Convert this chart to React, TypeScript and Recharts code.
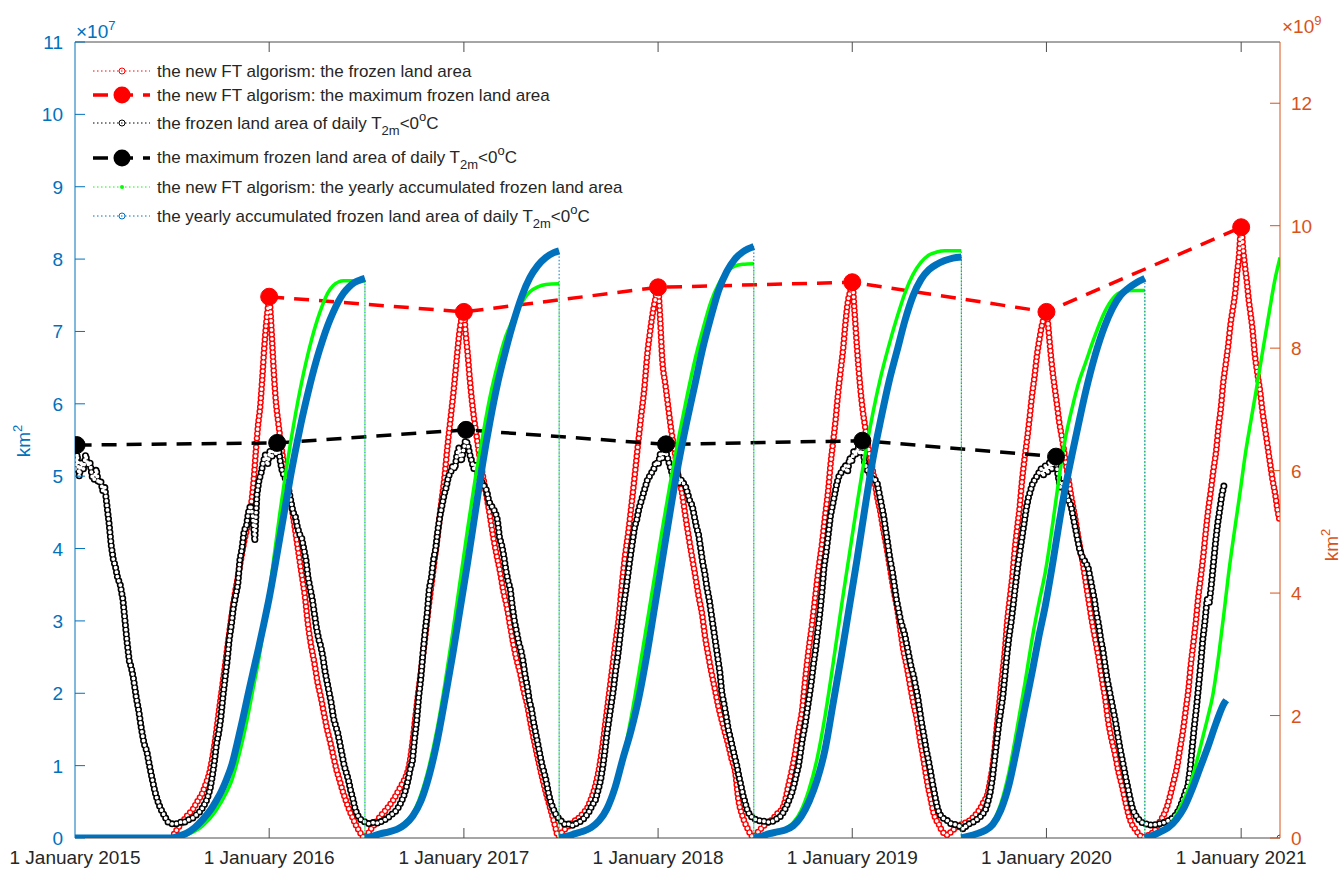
import React from "react";
import { ComposedChart, Line, XAxis, YAxis, ReferenceLine } from "recharts";

type Pt = [number, number];

// x is days since 1 January 2015
const dateTicks = [0, 365, 731, 1096, 1461, 1826, 2192];
const dateLabels = [
  "1 January 2015",
  "1 January 2016",
  "1 January 2017",
  "1 January 2018",
  "1 January 2019",
  "1 January 2020",
  "1 January 2021",
];
const areaTicks = [0, 1, 2, 3, 4, 5, 6, 7, 8, 9, 10, 11]; // x10^7 km2
const accTicks = [0, 2, 4, 6, 8, 10, 12]; // x10^9 km2

// yearly maxima (x10^7 km2)
const ftMaxDays = [365, 731, 1096, 1461, 1826, 2192];
const ftMaxArea = [7.48, 7.27, 7.61, 7.68, 7.27, 8.44];
const t2mMaxDays = [3, 380, 735, 1111, 1480, 1844];
const t2mMaxArea = [5.43, 5.46, 5.64, 5.44, 5.49, 5.27];
const ftLast: Pt = [2265, 0];

// new FT algorism, daily frozen land area (x10^7 km2)
const ftA: Pt[] = [[182,0],[186,0.05],[192,0.12],[198,0.18],[204,0.24],[210,0.3],[216,0.35],[222,0.4],[228,0.48],[234,0.55],[240,0.63],[246,0.75],[252,0.88],[258,1.1],[264,1.38],[270,1.72],[276,2.05],[282,2.38],[288,2.72],[294,3.05],[300,3.35],[306,3.6],[312,3.85],[318,4.1],[324,4.3],[330,4.55],[336,4.95],[340,5.35],[344,5.7],[348,5.95],[352,6.35],[356,6.8],[360,7.15],[363,7.35],[365,7.48],[368,7.2],[371,6.8],[374,6.4],[378,6.0],[382,5.75],[388,5.4],[395,5.06],[402,4.75],[408,4.53],[414,4.25],[420,3.95],[426,3.65],[432,3.35],[438,2.95],[444,2.65],[450,2.42],[456,2.15],[462,1.95],[468,1.72],[474,1.5],[480,1.32],[486,1.12],[492,0.93],[498,0.78],[504,0.63],[510,0.5],[516,0.38],[522,0.28],[528,0.18],[534,0.1],[540,0.03],[544,0]];
const ftB: Pt[] = [[550,0.05],[556,0.12],[562,0.18],[568,0.24],[574,0.3],[580,0.35],[586,0.4],[592,0.46],[598,0.52],[604,0.6],[610,0.68],[616,0.76],[622,0.85],[628,1.0],[634,1.3],[640,1.68],[646,2.05],[652,2.4],[658,2.76],[664,3.15],[670,3.5],[676,3.85],[682,4.2],[688,4.6],[694,4.95],[700,5.4],[706,5.8],[712,6.2],[718,6.66],[722,6.95],[726,7.15],[731,7.27],[734,7.0],[738,6.7],[742,6.35],[746,6.05],[750,5.8],[756,5.5],[762,5.2],[768,4.95],[774,4.71],[780,4.45],[786,4.17],[792,3.93],[799,3.68],[805,3.42],[812,3.19],[818,2.93],[824,2.68],[830,2.47],[837,2.27],[843,2.05],[850,1.84],[856,1.6],[862,1.38],[868,1.17],[874,0.97],[880,0.78],[887,0.58],[893,0.42],[899,0.26],[904,0.12],[908,0.02]];
const ftC: Pt[] = [[912,0.05],[918,0.1],[925,0.15],[932,0.19],[938,0.23],[944,0.26],[950,0.3],[956,0.35],[962,0.4],[968,0.5],[974,0.62],[980,0.78],[986,1.0],[992,1.3],[998,1.65],[1004,2.0],[1010,2.35],[1016,2.7],[1022,3.03],[1028,3.5],[1034,3.9],[1040,4.22],[1046,4.6],[1052,5.0],[1058,5.42],[1064,5.82],[1070,6.2],[1076,6.7],[1082,7.05],[1087,7.3],[1091,7.45],[1096,7.61],[1099,7.3],[1104,6.6],[1110,6.25],[1115,5.96],[1121,5.62],[1128,5.31],[1134,5.02],[1141,4.77],[1146,4.52],[1152,4.23],[1159,3.92],[1166,3.62],[1172,3.35],[1179,3.08],[1184,2.8],[1190,2.54],[1196,2.3],[1203,2.05],[1209,1.83],[1216,1.62],[1222,1.45],[1228,1.29],[1234,1.1],[1241,0.91],[1247,0.53],[1254,0.32],[1260,0.2],[1265,0.12],[1270,0.05],[1275,0.01]];
const ftD: Pt[] = [[1280,0.05],[1286,0.1],[1292,0.15],[1298,0.19],[1304,0.22],[1310,0.25],[1316,0.3],[1322,0.35],[1329,0.4],[1335,0.52],[1340,0.69],[1347,0.92],[1354,1.19],[1360,1.48],[1367,1.78],[1372,2.15],[1378,2.54],[1385,2.93],[1391,3.3],[1397,3.68],[1404,4.06],[1410,4.45],[1416,4.82],[1420,5.15],[1425,5.47],[1430,5.8],[1434,6.12],[1439,6.45],[1444,6.77],[1448,7.1],[1453,7.42],[1457,7.55],[1461,7.68],[1465,7.3],[1470,6.77],[1476,6.23],[1480,5.95],[1485,5.69],[1490,5.45],[1495,5.25],[1502,4.98],[1508,4.71],[1514,4.5],[1519,4.28],[1526,4.0],[1532,3.73],[1538,3.46],[1545,3.19],[1551,2.9],[1557,2.6],[1564,2.35],[1570,2.1],[1576,1.86],[1583,1.62],[1588,1.38],[1594,1.13],[1599,0.9],[1604,0.69],[1609,0.52],[1613,0.37],[1618,0.26],[1623,0.2],[1628,0.12],[1634,0.06],[1640,0.04]];
const ftE: Pt[] = [[1646,0.08],[1652,0.12],[1658,0.15],[1664,0.18],[1670,0.2],[1676,0.22],[1683,0.25],[1690,0.3],[1696,0.35],[1701,0.4],[1708,0.5],[1715,0.6],[1720,0.78],[1724,0.95],[1729,1.25],[1733,1.55],[1738,1.9],[1743,2.25],[1748,2.6],[1752,2.97],[1757,3.3],[1762,3.62],[1766,3.95],[1771,4.28],[1776,4.6],[1780,4.93],[1785,5.25],[1790,5.53],[1795,5.85],[1799,6.12],[1804,6.4],[1808,6.66],[1813,6.9],[1818,7.1],[1822,7.2],[1826,7.27],[1829,7.1],[1832,6.85],[1836,6.55],[1841,6.25],[1846,5.98],[1850,5.75],[1855,5.54],[1861,5.25],[1867,4.98],[1873,4.7],[1880,4.42],[1886,4.15],[1893,3.86],[1899,3.58],[1905,3.3],[1911,3.02],[1918,2.74],[1925,2.45],[1931,2.17],[1937,1.9],[1942,1.62],[1948,1.38],[1955,1.16],[1961,0.93],[1968,0.72],[1974,0.52],[1980,0.33],[1986,0.2],[1993,0.12],[2000,0.05],[2006,0.01]];
const ftF: Pt[] = [[2012,0.02],[2018,0.04],[2025,0.07],[2031,0.12],[2037,0.2],[2043,0.27],[2049,0.36],[2054,0.46],[2059,0.6],[2065,0.78],[2072,1.0],[2077,1.23],[2083,1.5],[2088,1.78],[2093,2.06],[2097,2.37],[2102,2.68],[2107,3.0],[2111,3.3],[2116,3.6],[2121,3.91],[2125,4.2],[2130,4.53],[2135,4.8],[2140,5.09],[2145,5.35],[2149,5.65],[2154,5.95],[2158,6.27],[2163,6.55],[2168,6.83],[2172,7.1],[2177,7.34],[2181,7.55],[2184,7.78],[2188,8.05],[2192,8.44],[2196,8.11],[2200,7.85],[2203,7.67],[2206,7.45],[2209,7.28],[2213,7.05],[2218,6.66],[2223,6.4],[2228,6.15],[2232,5.9],[2237,5.65],[2242,5.4],[2246,5.2],[2251,4.95],[2256,4.75],[2260,4.55],[2264,4.4]];

// daily T2m<0 frozen land area (x10^7 km2)
const t2mA: Pt[] = [[0,5.1],[4,5.3],[8,5.0],[12,5.2],[16,5.1],[20,5.3],[24,5.15],[28,5.2],[32,5.0],[36,4.95],[40,5.1],[44,4.9],[48,4.95],[52,4.8],[56,4.85],[60,4.6],[64,4.35],[68,4.05],[72,3.85],[76,3.75],[80,3.6],[85,3.5],[90,3.3],[94,3.0],[98,2.7],[102,2.45],[106,2.35],[110,2.2],[115,1.95],[120,1.75],[125,1.5],[130,1.3],[135,1.2],[140,1.0],[145,0.82],[150,0.65],[155,0.52],[160,0.42],[165,0.35],[170,0.28],[175,0.22],[180,0.2],[186,0.19],[192,0.2],[198,0.22],[204,0.21],[210,0.24],[216,0.26],[222,0.28],[228,0.32],[234,0.36],[240,0.42],[246,0.5],[250,0.58],[254,0.68],[258,0.85],[262,1.05],[266,1.3],[270,1.45],[274,1.65],[278,1.95],[282,2.2],[286,2.45],[290,2.75],[294,2.95],[298,3.2],[302,3.35],[306,3.5],[310,3.85],[314,4.0],[318,4.25],[322,4.3],[326,4.5],[330,4.6],[334,4.45],[338,4.1],[342,4.75],[346,4.95],[350,5.05],[354,5.2],[358,5.3],[362,5.15],[366,5.35],[370,5.25],[374,5.45],[378,5.3],[382,5.4],[386,5.2],[390,5.05],[394,5.0],[398,4.9],[402,4.8],[406,4.65],[410,4.5],[414,4.45],[418,4.3],[422,4.2],[426,4.15],[430,4.0],[434,3.85],[438,3.6],[442,3.45],[446,3.3],[450,3.1],[454,2.9],[458,2.75],[462,2.65],[466,2.5],[470,2.3],[474,2.15],[478,2.0],[482,1.85],[486,1.65],[490,1.55],[494,1.45],[498,1.3],[502,1.15],[506,1.0],[510,0.9],[514,0.8],[518,0.66],[522,0.55],[526,0.42],[530,0.33],[535,0.27],[540,0.24],[546,0.22]];
const t2mB: Pt[] = [[552,0.2],[558,0.21],[564,0.22],[570,0.2],[576,0.23],[582,0.25],[588,0.28],[594,0.32],[600,0.35],[606,0.4],[612,0.48],[618,0.58],[622,0.68],[626,0.8],[630,0.95],[634,1.05],[638,1.35],[642,1.6],[646,1.95],[650,2.2],[654,2.55],[658,2.85],[662,3.1],[666,3.45],[670,3.6],[674,3.85],[678,4.0],[682,4.25],[686,4.45],[690,4.6],[694,4.75],[698,4.85],[702,5.0],[706,5.05],[710,5.15],[714,5.1],[718,5.3],[722,5.4],[726,5.2],[730,5.35],[734,5.5],[738,5.45],[742,5.3],[746,5.2],[750,5.1],[754,5.15],[758,5.0],[762,4.95],[766,4.9],[770,4.85],[774,4.8],[778,4.65],[782,4.6],[786,4.55],[790,4.5],[794,4.4],[798,4.15],[802,4.05],[806,3.9],[810,3.7],[814,3.55],[818,3.45],[822,3.2],[826,3.0],[830,2.85],[834,2.7],[838,2.6],[842,2.45],[846,2.25],[850,2.1],[854,1.9],[858,1.78],[862,1.6],[866,1.45],[870,1.3],[874,1.15],[878,1.0],[882,0.9],[886,0.78],[890,0.62],[894,0.5],[898,0.42],[902,0.35],[906,0.3]];
const t2mC: Pt[] = [[912,0.25],[918,0.2],[924,0.18],[930,0.2],[936,0.17],[942,0.2],[948,0.22],[954,0.25],[960,0.3],[966,0.36],[972,0.45],[978,0.52],[984,0.68],[988,0.8],[992,0.98],[996,1.2],[1000,1.45],[1004,1.65],[1008,1.85],[1012,2.05],[1016,2.3],[1020,2.5],[1024,2.75],[1028,3.0],[1032,3.25],[1036,3.45],[1040,3.68],[1044,3.9],[1048,4.1],[1052,4.3],[1056,4.4],[1060,4.55],[1064,4.65],[1068,4.75],[1072,4.85],[1076,4.95],[1080,5.0],[1084,5.05],[1088,5.1],[1092,5.2],[1096,5.15],[1100,5.3],[1104,5.25],[1108,5.4],[1112,5.3],[1116,5.2],[1120,5.1],[1124,5.0],[1128,4.95],[1132,5.05],[1136,4.9],[1140,4.95],[1144,4.9],[1148,4.85],[1152,4.75],[1156,4.65],[1160,4.6],[1164,4.45],[1168,4.3],[1172,4.2],[1176,4.0],[1180,3.8],[1184,3.65],[1188,3.45],[1192,3.3],[1196,3.1],[1200,2.9],[1204,2.7],[1208,2.5],[1212,2.3],[1216,2.0],[1220,1.85],[1224,1.68],[1228,1.5],[1232,1.38],[1236,1.25],[1240,1.12],[1244,1.0],[1248,0.85],[1252,0.72],[1256,0.58],[1260,0.48],[1264,0.38],[1268,0.32],[1272,0.29]];
const t2mD: Pt[] = [[1278,0.26],[1284,0.24],[1290,0.24],[1296,0.23],[1302,0.22],[1308,0.22],[1314,0.24],[1320,0.27],[1326,0.3],[1332,0.36],[1338,0.45],[1344,0.56],[1348,0.64],[1352,0.75],[1356,0.88],[1360,1.0],[1364,1.2],[1368,1.4],[1372,1.55],[1376,1.75],[1380,1.95],[1384,2.15],[1388,2.4],[1392,2.6],[1396,2.85],[1400,3.1],[1404,3.4],[1408,3.75],[1412,3.95],[1416,4.2],[1420,4.45],[1424,4.6],[1428,4.75],[1432,4.9],[1436,5.0],[1440,5.05],[1444,5.1],[1448,5.15],[1452,5.05],[1456,5.25],[1460,5.2],[1464,5.35],[1468,5.3],[1472,5.4],[1476,5.3],[1480,5.45],[1484,5.2],[1488,5.1],[1492,5.05],[1496,5.0],[1500,4.95],[1504,4.95],[1508,4.9],[1512,4.75],[1516,4.6],[1520,4.45],[1524,4.25],[1528,4.05],[1532,3.85],[1536,3.7],[1540,3.5],[1544,3.3],[1548,3.15],[1552,3.0],[1556,2.9],[1560,2.8],[1564,2.65],[1568,2.5],[1572,2.35],[1576,2.25],[1580,2.1],[1584,1.95],[1588,1.75],[1592,1.56],[1596,1.4],[1600,1.22],[1604,1.08],[1608,0.92],[1612,0.75],[1616,0.6],[1620,0.45],[1624,0.35],[1628,0.3],[1634,0.26],[1640,0.24],[1646,0.2],[1652,0.19],[1658,0.18],[1664,0.16]];
const t2mE: Pt[] = [[1670,0.12],[1676,0.18],[1682,0.2],[1688,0.22],[1694,0.25],[1700,0.28],[1706,0.33],[1712,0.4],[1716,0.5],[1720,0.62],[1724,0.8],[1728,1.05],[1732,1.3],[1736,1.55],[1740,1.75],[1744,1.95],[1748,2.25],[1752,2.55],[1756,2.8],[1760,3.0],[1764,3.25],[1768,3.5],[1772,3.75],[1776,3.95],[1780,4.15],[1784,4.35],[1788,4.55],[1792,4.7],[1796,4.8],[1800,4.9],[1804,4.95],[1808,5.0],[1812,5.05],[1816,5.1],[1820,5.0],[1824,5.15],[1828,5.05],[1832,5.2],[1836,5.1],[1840,5.25],[1844,5.2],[1848,5.0],[1852,4.85],[1856,4.9],[1860,4.8],[1864,4.75],[1868,4.65],[1872,4.6],[1876,4.45],[1880,4.3],[1884,4.15],[1888,4.0],[1892,3.9],[1896,3.85],[1900,3.8],[1904,3.75],[1908,3.6],[1912,3.45],[1916,3.3],[1920,3.1],[1924,2.95],[1928,2.75],[1932,2.6],[1936,2.4],[1940,2.2],[1944,2.05],[1948,1.9],[1952,1.75],[1956,1.6],[1960,1.42],[1964,1.25],[1968,1.1],[1972,0.95],[1976,0.8],[1980,0.66],[1984,0.52],[1988,0.4],[1992,0.33],[1998,0.27],[2004,0.22],[2010,0.2]];
const t2mF: Pt[] = [[2016,0.19],[2022,0.18],[2028,0.18],[2034,0.19],[2040,0.2],[2046,0.21],[2052,0.23],[2058,0.25],[2064,0.28],[2070,0.33],[2076,0.4],[2080,0.48],[2084,0.56],[2088,0.65],[2092,0.72],[2096,0.95],[2100,1.25],[2104,1.55],[2108,1.8],[2112,2.1],[2116,2.4],[2120,2.75],[2124,3.0],[2128,3.3],[2132,3.25],[2136,3.5],[2140,3.8],[2144,4.1],[2148,4.35],[2152,4.55],[2156,4.75],[2160,4.88]];

// yearly accumulated frozen land area, new FT algorism (x10^9 km2)
const ftAcc1: Pt[] = [[180,0],[210,0.05],[240,0.2],[265,0.45],[285,0.75],[295,0.95],[305,1.25],[315,1.6],[325,2.0],[335,2.45],[345,2.9],[355,3.45],[365,4.0],[375,4.65],[385,5.3],[395,5.9],[405,6.45],[415,6.95],[425,7.4],[435,7.8],[445,8.15],[455,8.45],[465,8.7],[475,8.9],[485,9.02],[495,9.08],[505,9.1],[545,9.1]];
const ftAcc2: Pt[] = [[545,0],[575,0.05],[605,0.15],[620,0.25],[635,0.4],[650,0.7],[665,1.15],[680,1.75],[695,2.5],[710,3.35],[724,4.2],[738,5.05],[752,5.85],[766,6.55],[780,7.2],[795,7.75],[810,8.2],[825,8.5],[840,8.75],[855,8.92],[870,9.0],[885,9.04],[910,9.05]];
const ftAcc3: Pt[] = [[910,0],[940,0.05],[970,0.15],[985,0.27],[1000,0.45],[1015,0.8],[1030,1.3],[1045,1.95],[1060,2.7],[1075,3.5],[1090,4.3],[1105,5.1],[1120,5.85],[1135,6.55],[1150,7.2],[1165,7.8],[1180,8.3],[1195,8.75],[1210,9.05],[1225,9.25],[1240,9.34],[1255,9.37],[1276,9.38]];
const ftAcc4: Pt[] = [[1276,0],[1305,0.05],[1335,0.15],[1350,0.25],[1365,0.45],[1380,0.8],[1395,1.3],[1410,2.0],[1425,2.85],[1440,3.75],[1455,4.6],[1470,5.45],[1485,6.25],[1500,6.95],[1515,7.55],[1530,8.05],[1545,8.5],[1560,8.9],[1575,9.2],[1590,9.4],[1605,9.52],[1620,9.57],[1635,9.59],[1666,9.59]];
const ftAcc5: Pt[] = [[1666,0],[1695,0.05],[1710,0.1],[1725,0.25],[1740,0.55],[1755,1.05],[1770,1.75],[1785,2.5],[1800,3.3],[1812,3.85],[1824,4.35],[1838,5.15],[1850,5.9],[1861,6.5],[1875,7.05],[1887,7.45],[1899,7.75],[1915,8.15],[1936,8.6],[1950,8.8],[1968,8.92],[1990,8.94],[2011,8.94]];
const ftAcc6: Pt[] = [[2011,0],[2030,0.05],[2050,0.15],[2065,0.3],[2080,0.55],[2095,0.85],[2106,1.17],[2120,1.65],[2130,2.0],[2138,2.3],[2150,3.0],[2160,3.7],[2168,4.29],[2180,5.05],[2190,5.65],[2200,6.28],[2210,6.8],[2220,7.3],[2232,7.93],[2245,8.6],[2255,9.1],[2265,9.48]];

// yearly accumulated frozen land area of daily T2m<0 (x10^9 km2)
const t2mAcc1: Pt[] = [[0,0],[30,0],[60,0],[90,0],[120,0],[150,0],[180,0],[195,0.03],[210,0.08],[225,0.17],[240,0.3],[255,0.46],[265,0.6],[275,0.76],[285,0.96],[295,1.2],[305,1.55],[315,1.93],[325,2.33],[335,2.72],[345,3.1],[355,3.5],[365,3.92],[375,4.4],[385,4.9],[395,5.4],[405,5.9],[417,6.44],[425,6.78],[436,7.2],[445,7.52],[455,7.84],[465,8.12],[475,8.37],[485,8.58],[495,8.76],[505,8.9],[515,9.0],[525,9.07],[535,9.11],[545,9.14]];
const t2mAcc2: Pt[] = [[545,0],[560,0.03],[575,0.07],[590,0.1],[605,0.14],[620,0.22],[635,0.36],[650,0.6],[665,1.0],[680,1.55],[695,2.25],[710,3.0],[724,3.75],[738,4.5],[752,5.3],[766,6.1],[780,6.8],[795,7.45],[810,7.98],[825,8.45],[840,8.85],[855,9.15],[870,9.35],[885,9.48],[900,9.56],[910,9.59]];
const t2mAcc3: Pt[] = [[910,0],[925,0.03],[940,0.07],[955,0.11],[970,0.17],[985,0.28],[1000,0.48],[1015,0.82],[1030,1.3],[1045,1.75],[1060,2.3],[1075,3.0],[1090,3.8],[1105,4.6],[1120,5.4],[1135,6.15],[1150,6.8],[1165,7.4],[1180,8.0],[1195,8.5],[1210,8.95],[1225,9.25],[1240,9.45],[1255,9.57],[1265,9.62],[1276,9.66]];
const t2mAcc4: Pt[] = [[1276,0],[1290,0.03],[1305,0.07],[1320,0.1],[1335,0.13],[1350,0.2],[1365,0.35],[1380,0.6],[1395,0.95],[1410,1.45],[1425,2.2],[1440,2.95],[1455,3.75],[1470,4.55],[1485,5.4],[1500,6.2],[1515,6.85],[1530,7.45],[1545,7.95],[1560,8.45],[1575,8.85],[1590,9.12],[1605,9.28],[1620,9.37],[1635,9.43],[1650,9.47],[1666,9.49]];
const t2mAcc5: Pt[] = [[1666,0],[1680,0.03],[1695,0.07],[1710,0.12],[1725,0.22],[1740,0.45],[1755,0.85],[1770,1.45],[1785,2.1],[1800,2.75],[1812,3.3],[1824,3.8],[1838,4.5],[1850,5.15],[1861,5.7],[1875,6.3],[1886,6.75],[1900,7.3],[1918,7.9],[1935,8.35],[1950,8.65],[1965,8.86],[1980,8.98],[1995,9.07],[2011,9.14]];
const t2mAcc6: Pt[] = [[2011,0],[2025,0.04],[2040,0.1],[2055,0.17],[2070,0.3],[2085,0.5],[2100,0.8],[2115,1.15],[2130,1.5],[2145,1.88],[2160,2.2],[2164,2.25]];

const W = 1344;
const H = 869;
const PL = 75;
const PR = 1280;
const PT = 42;
const PB = 838;
const BLUE = "#0072BD";
const ORANGE = "#D95319";
const RED = "#FF0000";
const GREEN = "#00FF00";
const AXIS = "#4d4d4d";
const TEXT = "#262626";
const FONT = "'Liberation Sans', Arial, Helvetica, sans-serif";

const rows = (pts: Pt[]) => pts.map(([d, v]) => ({ d, v }));
// one path through all years (thin dotted, shows the yearly reset)
const joined = (parts: Pt[][]) => parts.flatMap((p) => rows(p));
// thick curve, broken at every yearly reset
const broken = (parts: Pt[][]) =>
  parts.flatMap((p, i) => (i === 0 ? rows(p) : [{ d: p[0][0], v: null }, ...rows(p)]));

const ftDaily = joined([ftA, ftB, ftC, ftD, ftE, ftF]);
const t2mDaily = joined([t2mA, t2mB, t2mC, t2mD, t2mE, t2mF]);
const ftMax = ftMaxDays.map((d, i) => ({ d, v: ftMaxArea[i] }));
const t2mMax = t2mMaxDays.map((d, i) => ({ d, v: t2mMaxArea[i] }));
const ftAccParts = [ftAcc1, ftAcc2, ftAcc3, ftAcc4, ftAcc5, ftAcc6];
const t2mAccParts = [t2mAcc1, t2mAcc2, t2mAcc3, t2mAcc4, t2mAcc5, t2mAcc6];

function DateTick(props: any) {
  const { x, payload } = props;
  const i = dateTicks.indexOf(payload.value);
  return (
    <g>
      {i > 0 && <line x1={x} x2={x} y1={PB} y2={PB - 10} stroke={AXIS} />}
      {i > 0 && <line x1={x} x2={x} y1={PT} y2={PT + 10} stroke={AXIS} />}
      <text x={x} y={864} textAnchor="middle" fontSize={19} fontFamily={FONT} fill={TEXT}>
        {dateLabels[i]}
      </text>
    </g>
  );
}

function AreaTick(props: any) {
  const { y, payload } = props;
  return (
    <g>
      <line x1={PL} x2={PL + 10} y1={y} y2={y} stroke={BLUE} />
      <text x={63} y={y + 7} textAnchor="end" fontSize={19} fontFamily={FONT} fill={BLUE}>
        {payload.value}
      </text>
    </g>
  );
}

function AccTick(props: any) {
  const { y, payload } = props;
  return (
    <g>
      <line x1={PR - 10} x2={PR} y1={y} y2={y} stroke={ORANGE} />
      <text x={1291} y={y + 7} textAnchor="start" fontSize={19} fontFamily={FONT} fill={ORANGE}>
        {payload.value}
      </text>
    </g>
  );
}

// chain of open circles along a path: coloured beads with white centres
function ringLine(id: string, data: any[], color: string, curve: "monotone" | "linear", outer: number, inner: number, gap: number) {
  const dash = `0 ${gap}`;
  return [
    <Line key={id + "-o"} yAxisId="area" data={data} dataKey="v" type={curve} stroke={color}
      strokeWidth={outer} strokeDasharray={dash} strokeLinecap="round" dot={false} activeDot={false}
      isAnimationActive={false} />,
    <Line key={id + "-i"} yAxisId="area" data={data} dataKey="v" type={curve} stroke="#ffffff"
      strokeWidth={inner} strokeDasharray={dash} strokeLinecap="round" dot={false} activeDot={false}
      isAnimationActive={false} />,
  ];
}

function BigDot(color: string) {
  return (p: any) =>
    p.cx == null || p.cy == null ? null : <circle key={p.index} cx={p.cx} cy={p.cy} r={8.5} fill={color} stroke={color} />;
}

function LegendText({ x, y, parts }: { x: number; y: number; parts: string }) {
  return (
    <text x={x} y={y} fontSize={17} fontFamily={FONT} fill={TEXT}>
      {parts}
    </text>
  );
}

function T2mText({ x, y, lead }: { x: number; y: number; lead: string }) {
  return (
    <text x={x} y={y} fontSize={17} fontFamily={FONT} fill={TEXT}>
      {lead}
      <tspan dy={6} fontSize={13}>2m</tspan>
      <tspan dy={-6}>{"<0"}</tspan>
      <tspan dy={-8} fontSize={13}>o</tspan>
      <tspan dy={8}>C</tspan>
    </text>
  );
}

function Overlay() {
  const lx1 = 93;
  const lx2 = 150;
  const mx = 122;
  const tx = 157;
  return (
    <svg width={W} height={H} style={{ position: "absolute", left: 0, top: 0, pointerEvents: "none" }}>
      {/* exponent labels */}
      <text x={76} y={38} fontSize={19} fontFamily={FONT} fill={BLUE}>
        ×10<tspan dy={-8} fontSize={13}>7</tspan>
      </text>
      <text x={1282} y={33} fontSize={19} fontFamily={FONT} fill={ORANGE}>
        ×10<tspan dy={-8} fontSize={13}>9</tspan>
      </text>
      {/* axis titles */}
      <text x={30} y={441} fontSize={19} fontFamily={FONT} fill={BLUE} textAnchor="middle" transform="rotate(-90 30 441)">
        km<tspan dy={-8} fontSize={13}>2</tspan>
      </text>
      <text x={1338} y={545} fontSize={19} fontFamily={FONT} fill={ORANGE} textAnchor="middle" transform="rotate(-90 1338 545)">
        km<tspan dy={-8} fontSize={13}>2</tspan>
      </text>

      {/* legend */}
      <line x1={lx1} x2={lx2} y1={71} y2={71} stroke={RED} strokeDasharray="1.5 2.5" />
      <circle cx={mx} cy={71} r={3} fill="none" stroke={RED} />
      <LegendText x={tx} y={77} parts="the new FT algorism: the frozen land area" />

      <line x1={lx1} x2={lx2} y1={95} y2={95} stroke={RED} strokeWidth={3.5} strokeDasharray="15 10" />
      <circle cx={mx} cy={95} r={8.5} fill={RED} />
      <LegendText x={tx} y={101} parts="the new FT algorism: the maximum frozen land area" />

      <line x1={lx1} x2={lx2} y1={123} y2={123} stroke="#000" strokeDasharray="1.5 2.5" />
      <circle cx={mx} cy={123} r={3} fill="none" stroke="#000" />
      <T2mText x={tx} y={129} lead="the frozen land area of daily T" />

      <line x1={lx1} x2={lx2} y1={158} y2={158} stroke="#000" strokeWidth={3.5} strokeDasharray="15 10" />
      <circle cx={mx} cy={158} r={8.5} fill="#000" />
      <T2mText x={tx} y={163} lead="the maximum frozen land area of daily T" />

      <line x1={lx1} x2={lx2} y1={187} y2={187} stroke={GREEN} strokeDasharray="1.5 2.5" />
      <circle cx={mx} cy={187} r={2} fill={GREEN} />
      <LegendText x={tx} y={193} parts="the new FT algorism: the yearly accumulated frozen land area" />

      <line x1={lx1} x2={lx2} y1={216} y2={216} stroke={BLUE} strokeDasharray="1.5 2.5" />
      <circle cx={mx} cy={216} r={3} fill="none" stroke={BLUE} />
      <T2mText x={tx} y={222} lead="the yearly accumulated frozen land area of daily T" />
    </svg>
  );
}

export default function App() {
  return (
    <div style={{ position: "absolute", left: 0, top: 0, width: W, height: H, background: "#fff" }}>
      <ComposedChart width={W} height={H} margin={{ top: PT, right: 4, bottom: 0, left: 15 }}>
        <XAxis type="number" dataKey="d" domain={[0, 2265]} ticks={dateTicks} interval={0}
          tick={(p: any) => <DateTick {...p} />} tickLine={false} axisLine={{ stroke: AXIS }} height={31}
          allowDataOverflow />
        <YAxis yAxisId="area" domain={[0, 11]} ticks={areaTicks} interval={0} width={60}
          tick={(p: any) => <AreaTick {...p} />} tickLine={false} axisLine={{ stroke: BLUE }} allowDataOverflow />
        <YAxis yAxisId="acc" orientation="right" domain={[0, 13]} ticks={accTicks} interval={0} width={60}
          tick={(p: any) => <AccTick {...p} />} tickLine={false} axisLine={{ stroke: ORANGE }} allowDataOverflow />
        <ReferenceLine yAxisId="area" y={11} stroke={AXIS} />

        {ringLine("ft", ftDaily, RED, "monotone", 6.5, 3.6, 4.5)}
        <Line yAxisId="area" data={rows([ftLast])} dataKey="v" stroke={RED}
          dot={{ r: 3, fill: "none", stroke: RED, strokeWidth: 1 }} activeDot={false} isAnimationActive={false} />
        <Line yAxisId="area" data={ftMax} dataKey="v" type="linear" stroke={RED} strokeWidth={3.5}
          strokeDasharray="15 10" dot={BigDot(RED)} activeDot={false} isAnimationActive={false} />

        {ringLine("t2m", t2mDaily, "#000000", "linear", 7, 3.8, 4.5)}
        <Line yAxisId="area" data={t2mMax} dataKey="v" type="linear" stroke="#000000" strokeWidth={3.5}
          strokeDasharray="15 10" dot={BigDot("#000000")} activeDot={false} isAnimationActive={false} />

        <Line yAxisId="acc" data={joined(ftAccParts)} dataKey="v" type="linear" stroke={GREEN} strokeWidth={1}
          strokeDasharray="1.5 2" dot={false} activeDot={false} isAnimationActive={false} />
        <Line yAxisId="acc" data={broken(ftAccParts)} dataKey="v" type="monotone" stroke={GREEN} strokeWidth={3.5}
          dot={false} activeDot={false} isAnimationActive={false} />

        <Line yAxisId="acc" data={joined(t2mAccParts)} dataKey="v" type="linear" stroke={BLUE} strokeWidth={1}
          strokeDasharray="1.5 2" dot={false} activeDot={false} isAnimationActive={false} />
        <Line yAxisId="acc" data={broken(t2mAccParts)} dataKey="v" type="monotone" stroke={BLUE} strokeWidth={7}
          dot={false} activeDot={false} isAnimationActive={false} />
      </ComposedChart>
      <Overlay />
    </div>
  );
}
